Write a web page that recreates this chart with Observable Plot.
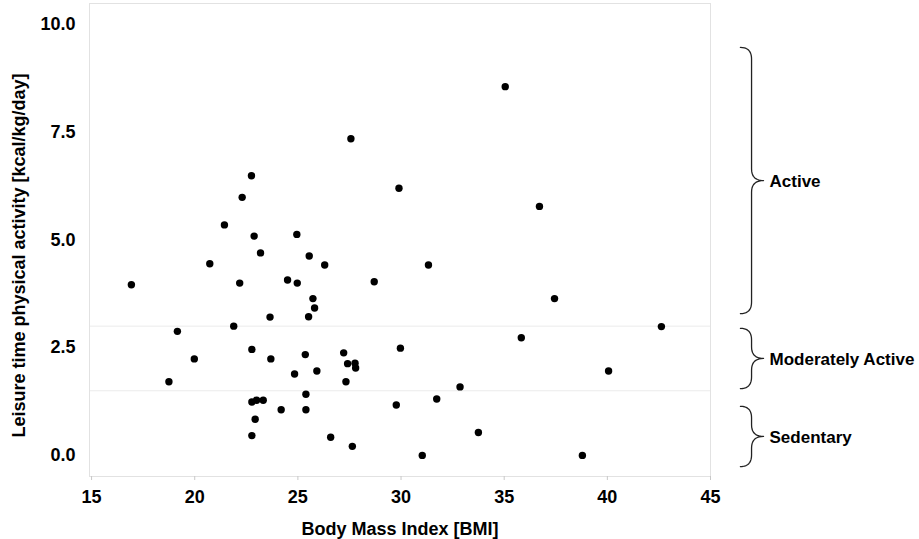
<!DOCTYPE html>
<html><head><meta charset="utf-8">
<script src="https://cdn.jsdelivr.net/npm/d3@7"></script>
<script src="https://cdn.jsdelivr.net/npm/@observablehq/plot@0.6"></script>
<style>body{margin:0;background:#fff}</style>
</head><body><div id="chart"></div>
<script>
// ---- data ----
const bmi = [35.05,27.57,22.75,22.30,29.90,36.71,21.44,22.88,23.19,20.73,16.93,22.18,23.65,24.95,25.55,26.30,31.33,24.50,24.97,28.70,25.73,25.81,25.52,19.16,21.89,22.77,19.98,23.69,18.75,22.77,23.00,23.32,22.93,22.77,25.36,27.22,27.41,27.77,27.80,25.92,24.84,27.33,29.97,25.39,24.19,25.39,29.77,26.59,27.64,31.03,37.44,42.62,35.83,40.06,32.86,31.73,33.75,38.79];
const activity = [8.56,7.35,6.49,5.99,6.20,5.78,5.35,5.09,4.70,4.45,3.96,4.00,3.21,5.13,4.63,4.42,4.42,4.07,4.00,4.03,3.64,3.42,3.22,2.88,3.00,2.46,2.24,2.24,1.71,1.24,1.28,1.28,0.84,0.46,2.34,2.38,2.13,2.14,2.03,1.96,1.89,1.71,2.49,1.42,1.06,1.06,1.17,0.42,0.21,0.00,3.64,2.99,2.73,1.96,1.59,1.31,0.53,0.00];
const xTicks = [15,20,25,30,35,40,45];
const yTicks = [0,2.5,5,7.5,10];
const thresholds = [1.5,3.0];
const groupLabels = ["Active","Moderately Active","Sedentary"];
const groupLow = [3.29,1.55,-0.26];
const groupHigh = [9.47,2.95,1.14];
const xLabel = "Body Mass Index [BMI]";
const yLabel = "Leisure time physical activity [kcal/kg/day]";

// ---- brace geometry (in x/y scale units) ----
const X_END = 46.45, X_SPINE = 46.99, X_TIP = 47.57, R = 0.27;
function quad(p0, c, p1, n) {
  const pts = [];
  for (let k = 0; k <= n; k++) {
    const t = k / n, u = 1 - t;
    pts.push([u*u*p0[0] + 2*u*t*c[0] + t*t*p1[0], u*u*p0[1] + 2*u*t*c[1] + t*t*p1[1]]);
  }
  return pts;
}
const braceData = [];
groupLabels.forEach((g, i) => {
  const lo = groupLow[i], hi = groupHigh[i], m = (lo + hi) / 2;
  const pts = [
    ...quad([X_END, hi], [X_SPINE, hi], [X_SPINE, hi - R], 10),
    ...quad([X_SPINE, m + R], [X_SPINE, m], [X_TIP, m], 10),
    ...quad([X_TIP, m], [X_SPINE, m], [X_SPINE, m - R], 10),
    ...quad([X_SPINE, lo + R], [X_SPINE, lo], [X_END, lo], 10)
  ];
  pts.forEach(([x, y]) => braceData.push({group: g, x, y}));
});

const font = "'Liberation Sans', Arial, Helvetica, sans-serif";
const chart = Plot.plot({
  width: 919,
  height: 539,
  marginLeft: 89,
  marginRight: 209,
  marginTop: 3,
  marginBottom: 63,
  style: {fontFamily: font, fontSize: "18px", fontWeight: "bold", color: "#000", background: "#fff"},
  x: {domain: [14.9, 45]},
  y: {domain: [-0.49, 10.49]},
  marks: [
    Plot.ruleY(thresholds, {stroke: "#ebebeb", strokeWidth: 1}),
    Plot.frame({stroke: "#e2e2e2"}),
    Plot.axisX({ticks: xTicks, tickSize: 4, tickPadding: 10, stroke: "#c8c8c8", fill: "#000", label: null, fontSize: 18}),
    Plot.axisY({ticks: yTicks, tickFormat: d3.format(".1f"), tickSize: 0, tickPadding: 14, fill: "#000", label: null, fontSize: 18}),
    Plot.dot(d3.range(bmi.length), {x: i => bmi[i], y: i => activity[i], r: 3.7, fill: "#000", stroke: "none"}),
    Plot.line(braceData, {x: "x", y: "y", z: "group", stroke: "#222", strokeWidth: 1.3, curve: "linear"}),
    Plot.text(groupLabels, {x: () => X_TIP, y: (d, i) => (groupLow[i] + groupHigh[i]) / 2, text: d => d, textAnchor: "start", dx: 6, dy: 1, fontSize: 17, fontWeight: "bold", fill: "#000"}),
    Plot.text([xLabel], {frameAnchor: "bottom", textAnchor: "middle", lineAnchor: "middle", dy: 53, text: d => d, fontSize: 18, fontWeight: "bold", fill: "#000"}),
    Plot.text([yLabel], {frameAnchor: "left", textAnchor: "middle", lineAnchor: "middle", rotate: -90, dx: -70, dy: 15.5, text: d => d, fontSize: 18, fontWeight: "bold", fill: "#000"})
  ]
});
document.getElementById("chart").appendChild(chart);
</script>
</body></html>
